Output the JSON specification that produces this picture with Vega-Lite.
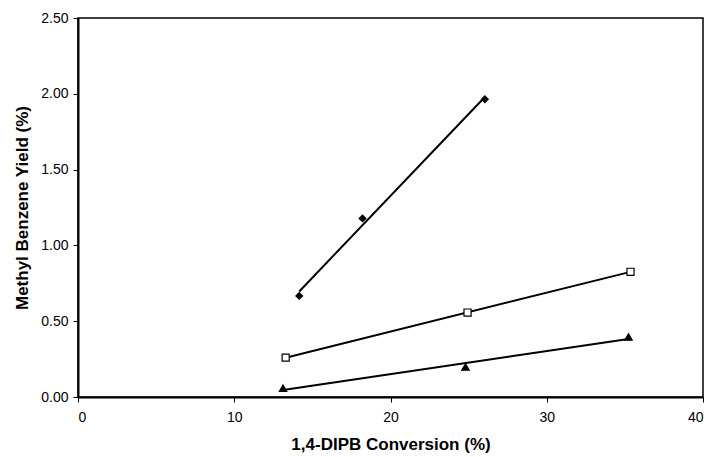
{
  "$schema": "https://vega.github.io/schema/vega-lite/v6.json",
  "width": 625,
  "height": 379,
  "autosize": {"type": "none"},
  "padding": {"left": 78, "top": 18, "right": 10, "bottom": 60},
  "background": "white",
  "config": {
    "font": "Liberation Sans",
    "view": {"stroke": "black", "strokeWidth": 1.5},
    "axis": {
      "grid": false,
      "domainColor": "black",
      "domainWidth": 2,
      "tickColor": "black",
      "tickWidth": 1,
      "tickSize": 5,
      "labelColor": "black",
      "labelFontSize": 14,
      "labelFont": "Liberation Sans",
      "titleFont": "Liberation Sans",
      "titleFontSize": 17,
      "titleFontWeight": "bold",
      "titleColor": "black"
    }
  },
  "data": {
    "values": [
      {"series": "A", "x": 14.16, "y": 0.667},
      {"series": "A", "x": 18.21, "y": 1.178},
      {"series": "A", "x": 26.04, "y": 1.964},
      {"series": "B", "x": 13.29, "y": 0.26},
      {"series": "B", "x": 24.93, "y": 0.557},
      {"series": "B", "x": 35.36, "y": 0.826},
      {"series": "C", "x": 13.12, "y": 0.058},
      {"series": "C", "x": 24.8, "y": 0.198},
      {"series": "C", "x": 35.23, "y": 0.396}
    ]
  },
  "layer": [
    {
      "transform": [{"regression": "y", "on": "x", "groupby": ["series"]}],
      "mark": {"type": "line", "color": "black", "strokeWidth": 2, "clip": true},
      "encoding": {
        "x": {"field": "x", "type": "quantitative"},
        "y": {"field": "y", "type": "quantitative"},
        "detail": {"field": "series"}
      }
    },
    {
      "mark": {"type": "point", "opacity": 1, "strokeWidth": 1.2, "stroke": "black"},
      "encoding": {
        "x": {
          "field": "x", "type": "quantitative",
          "scale": {"domain": [0, 40], "nice": false},
          "axis": {"values": [0, 10, 20, 30, 40], "title": "1,4-DIPB Conversion (%)", "labelPadding": 8, "titlePadding": 12}
        },
        "y": {
          "field": "y", "type": "quantitative",
          "scale": {"domain": [0, 2.5], "nice": false},
          "axis": {"values": [0, 0.5, 1, 1.5, 2, 2.5], "format": ".2f", "title": "Methyl Benzene Yield (%)", "labelPadding": 5, "titlePadding": 9}
        },
        "shape": {
          "field": "series", "type": "nominal",
          "scale": {"domain": ["A", "B", "C"], "range": ["diamond", "square", "triangle-up"]},
          "legend": null
        },
        "fill": {
          "field": "series", "type": "nominal",
          "scale": {"domain": ["A", "B", "C"], "range": ["black", "white", "black"]},
          "legend": null
        },
        "size": {
          "field": "series", "type": "nominal",
          "scale": {"domain": ["A", "B", "C"], "range": [45, 55, 60]},
          "legend": null
        }
      }
    }
  ]
}
